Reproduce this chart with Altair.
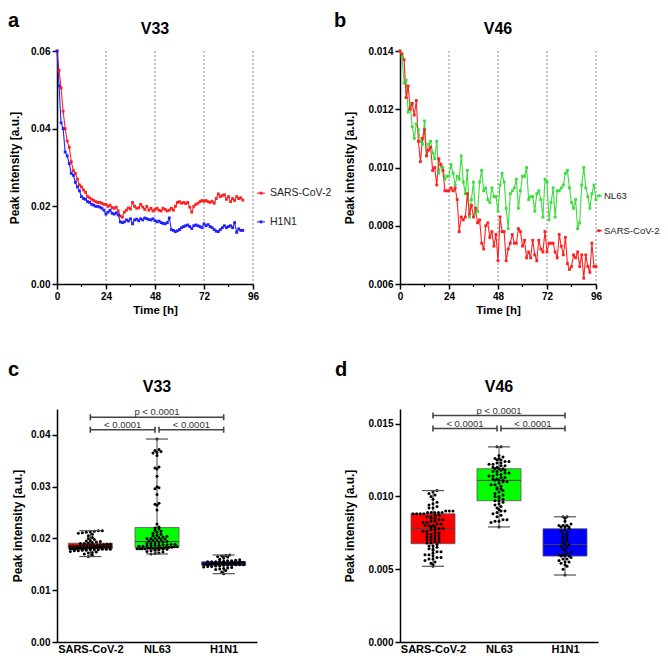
import altair as alt
import pandas as pd

FONT = "Liberation Sans"

# ---------------- Panel a : V33 time series ----------------
a_time = list(range(92))
a_sars = [0.0600, 0.0550, 0.0505, 0.0445, 0.0400, 0.0368, 0.0352, 0.0315, 0.0292, 0.0285,
          0.0270, 0.0255, 0.0250, 0.0242, 0.0236, 0.0225, 0.0222, 0.0218, 0.0215, 0.0212,
          0.0210, 0.0210, 0.0208, 0.0205, 0.0205, 0.0200, 0.0203, 0.0197, 0.0195, 0.0198,
          0.0188, 0.0175, 0.0172, 0.0185, 0.0190, 0.0196, 0.0193, 0.0210, 0.0200, 0.0195,
          0.0196, 0.0205, 0.0198, 0.0192, 0.0200, 0.0190, 0.0195, 0.0188, 0.0192, 0.0195,
          0.0190, 0.0188, 0.0195, 0.0192, 0.0188, 0.0190, 0.0195, 0.0190, 0.0200, 0.0210,
          0.0212, 0.0208, 0.0210, 0.0207, 0.0210, 0.0198, 0.0185, 0.0200, 0.0205, 0.0208,
          0.0212, 0.0215, 0.0213, 0.0215, 0.0212, 0.0210, 0.0213, 0.0208, 0.0220, 0.0232,
          0.0225, 0.0228, 0.0230, 0.0218, 0.0225, 0.0212, 0.0220, 0.0215, 0.0225, 0.0220,
          0.0222, 0.0216]
a_h1n1 = [0.0600, 0.0510, 0.0415, 0.0400, 0.0340, 0.0330, 0.0310, 0.0285, 0.0280, 0.0262,
          0.0250, 0.0240, 0.0225, 0.0220, 0.0218, 0.0212, 0.0210, 0.0205, 0.0203, 0.0200,
          0.0200, 0.0198, 0.0195, 0.0190, 0.0180, 0.0185, 0.0190, 0.0182, 0.0180, 0.0183,
          0.0178, 0.0160, 0.0158, 0.0160, 0.0165, 0.0162, 0.0168, 0.0155, 0.0165, 0.0167,
          0.0163, 0.0168, 0.0165, 0.0170, 0.0168, 0.0166, 0.0165, 0.0168, 0.0163, 0.0160,
          0.0162, 0.0158, 0.0156, 0.0155, 0.0158, 0.0170, 0.0140, 0.0138, 0.0135, 0.0137,
          0.0140, 0.0145, 0.0148, 0.0150, 0.0152, 0.0148, 0.0143, 0.0150, 0.0152, 0.0150,
          0.0148, 0.0145, 0.0155, 0.0150, 0.0153, 0.0148, 0.0145, 0.0140, 0.0136, 0.0135,
          0.0140, 0.0145, 0.0150, 0.0145, 0.0148, 0.0150, 0.0145, 0.0158, 0.0133, 0.0142,
          0.0138, 0.0138]

# ---------------- Panel b : V46 time series ----------------
b_time = list(range(97))
b_nl63 = [0.0140, 0.0138, 0.0129, 0.0130, 0.0119, 0.0122, 0.0114, 0.0110, 0.0115, 0.0113,
          0.0109, 0.0108, 0.0116, 0.0104, 0.0108, 0.0109, 0.0105, 0.0103, 0.0109, 0.0098,
          0.0101, 0.0100, 0.0096, 0.0097, 0.0097, 0.0101, 0.0098, 0.0094, 0.0097, 0.0096,
          0.0104, 0.0095, 0.0091, 0.0099, 0.0083, 0.0089, 0.0095, 0.0084, 0.0085, 0.0095,
          0.0099, 0.0092, 0.0093, 0.0089, 0.0088, 0.0093, 0.0090, 0.0090, 0.0085, 0.0094,
          0.0098, 0.0095, 0.0086, 0.0079, 0.0091, 0.0092, 0.0093, 0.0096, 0.0086, 0.0092,
          0.0097, 0.0097, 0.0100, 0.0089, 0.0090, 0.0090, 0.0085, 0.0091, 0.0092, 0.0089,
          0.0083, 0.0096, 0.0095, 0.0082, 0.0088, 0.0093, 0.0083, 0.0092, 0.0092, 0.0093,
          0.0094, 0.0098, 0.0099, 0.0093, 0.0088, 0.0086, 0.0089, 0.0079, 0.0081, 0.0094,
          0.0100, 0.0093, 0.0090, 0.0086, 0.0091, 0.0094, 0.0089]
b_sars = [0.0140, 0.0139, 0.0137, 0.0124, 0.0128, 0.0120, 0.0122, 0.0118, 0.0123, 0.0109,
          0.0102, 0.0110, 0.0113, 0.0104, 0.0106, 0.0107, 0.0099, 0.0100, 0.0094, 0.0103,
          0.0101, 0.0099, 0.0092, 0.0092, 0.0092, 0.0093, 0.0092, 0.0093, 0.0089, 0.0078,
          0.0083, 0.0082, 0.0083, 0.0091, 0.0084, 0.0087, 0.0083, 0.0086, 0.0081, 0.0082,
          0.0074, 0.0072, 0.0080, 0.0081, 0.0076, 0.0078, 0.0073, 0.0077, 0.0068, 0.0083,
          0.0078, 0.0078, 0.0068, 0.0072, 0.0074, 0.0077, 0.0074, 0.0074, 0.0079, 0.0078,
          0.0073, 0.0075, 0.0069, 0.0071, 0.0069, 0.0075, 0.0070, 0.0068, 0.0075, 0.0072,
          0.0071, 0.0078, 0.0071, 0.0074, 0.0074, 0.0074, 0.0071, 0.0069, 0.0077, 0.0073,
          0.0070, 0.0076, 0.0067, 0.0065, 0.0066, 0.0070, 0.0069, 0.0071, 0.0066, 0.0070,
          0.0062, 0.0070, 0.0066, 0.0064, 0.0074, 0.0066, 0.0066]

# ---------------- Panels c / d : distributions ----------------
box_categories = ["SARS-CoV-2", "NL63", "H1N1"]

c_sars = [0.0215, 0.0215, 0.0214, 0.0213, 0.0212, 0.0211, 0.0210, 0.0208, 0.0205, 0.0202,
          0.0200, 0.0198, 0.0196, 0.0195, 0.0194, 0.0193, 0.0192, 0.0191,
          0.0190, 0.0190, 0.0189, 0.0189, 0.0188, 0.0188, 0.0187, 0.0187, 0.0187, 0.0186,
          0.0186, 0.0186, 0.0185, 0.0185, 0.0185, 0.0184, 0.0184, 0.0184, 0.0184,
          0.0183, 0.0183, 0.0183, 0.0183, 0.0182, 0.0182, 0.0182, 0.0182, 0.0181, 0.0181,
          0.0181, 0.0181, 0.0180, 0.0180, 0.0180, 0.0180, 0.0179, 0.0179, 0.0179,
          0.0178, 0.0178, 0.0178, 0.0177, 0.0177, 0.0176, 0.0176, 0.0175, 0.0174, 0.0173,
          0.0172, 0.0170, 0.0168, 0.0165]
c_nl63 = [0.0392, 0.0372, 0.0370, 0.0368, 0.0366, 0.0365, 0.0360, 0.0338, 0.0336, 0.0334,
          0.0320, 0.0300, 0.0298, 0.0296, 0.0285, 0.0268, 0.0266, 0.0264, 0.0255, 0.0228,
          0.0222, 0.0220, 0.0218, 0.0216, 0.0214, 0.0212, 0.0210, 0.0208, 0.0206, 0.0205,
          0.0204, 0.0203, 0.0202, 0.0201, 0.0200, 0.0200, 0.0199, 0.0198, 0.0197, 0.0196,
          0.0195, 0.0194, 0.0193, 0.0192, 0.0191, 0.0190, 0.0190, 0.0189, 0.0189, 0.0188,
          0.0188, 0.0187, 0.0187, 0.0186, 0.0186, 0.0185, 0.0185, 0.0184, 0.0184, 0.0183,
          0.0183, 0.0183, 0.0182, 0.0182, 0.0182, 0.0181, 0.0181, 0.0181, 0.0181, 0.0180,
          0.0180, 0.0180, 0.0180, 0.0179, 0.0179, 0.0178, 0.0177, 0.0176, 0.0175, 0.0174,
          0.0172, 0.0171, 0.0170]
c_h1n1 = [0.0168, 0.0167, 0.0166, 0.0165, 0.0164, 0.0162, 0.0160, 0.0159, 0.0158, 0.0157,
          0.0157, 0.0156, 0.0156, 0.0155, 0.0155, 0.0155,
          0.0154, 0.0154, 0.0154, 0.0153, 0.0153, 0.0153, 0.0152, 0.0152, 0.0152, 0.0152,
          0.0151, 0.0151, 0.0151, 0.0151, 0.0150, 0.0150, 0.0150, 0.0150, 0.0149, 0.0149,
          0.0149, 0.0148, 0.0148, 0.0148,
          0.0147, 0.0147, 0.0146, 0.0146, 0.0145, 0.0144, 0.0143, 0.0142, 0.0141, 0.0140,
          0.0138, 0.0135, 0.0132]

d_sars = [0.0104, 0.0103, 0.0102, 0.0101, 0.0100, 0.0098, 0.0096, 0.0095, 0.0094, 0.0093,
          0.0092, 0.0092,
          0.0090, 0.0090, 0.0090, 0.0089, 0.0089, 0.0089, 0.0089, 0.0089, 0.0088, 0.0088,
          0.0088, 0.0088,
          0.0087, 0.0087, 0.0086, 0.0086, 0.0085, 0.0085, 0.0084, 0.0084, 0.0083, 0.0083,
          0.0082, 0.0082, 0.0081, 0.0081, 0.0080, 0.0080, 0.0080,
          0.0079, 0.0079, 0.0078, 0.0078, 0.0077, 0.0077, 0.0076, 0.0076, 0.0075, 0.0075,
          0.0074, 0.0074, 0.0073, 0.0073, 0.0072, 0.0072, 0.0071, 0.0071, 0.0070, 0.0070,
          0.0069, 0.0069, 0.0068,
          0.0068, 0.0067, 0.0066, 0.0066, 0.0065, 0.0064, 0.0064, 0.0063, 0.0062, 0.0062,
          0.0061, 0.0060, 0.0060, 0.0059, 0.0058, 0.0058, 0.0057, 0.0057, 0.0056, 0.0055,
          0.0054, 0.0053, 0.0052]
d_nl63 = [0.0134, 0.0134, 0.0128, 0.0127, 0.0126, 0.0126, 0.0125, 0.0125, 0.0124, 0.0124,
          0.0123, 0.0123, 0.0122, 0.0122, 0.0121, 0.0121, 0.0120, 0.0120, 0.0119, 0.0119,
          0.0119,
          0.0118, 0.0118, 0.0117, 0.0117, 0.0116, 0.0116, 0.0115, 0.0115, 0.0114, 0.0114,
          0.0113, 0.0113, 0.0112, 0.0112, 0.0111, 0.0111, 0.0111,
          0.0110, 0.0110, 0.0109, 0.0108, 0.0108, 0.0107, 0.0106, 0.0105, 0.0105, 0.0104,
          0.0103, 0.0102, 0.0101, 0.0100, 0.0100, 0.0099, 0.0098, 0.0097, 0.0097,
          0.0096, 0.0095, 0.0094, 0.0093, 0.0092, 0.0091, 0.0090, 0.0090, 0.0089, 0.0088,
          0.0087, 0.0086, 0.0084, 0.0084, 0.0083, 0.0083, 0.0082, 0.0079]
d_h1n1 = [0.0086, 0.0086, 0.0085, 0.0083, 0.0081, 0.0080, 0.0080, 0.0080, 0.0079, 0.0079,
          0.0079, 0.0078,
          0.0077, 0.0076, 0.0075, 0.0074, 0.0073, 0.0072, 0.0071, 0.0070, 0.0069, 0.0068,
          0.0067, 0.0067,
          0.0066, 0.0065, 0.0064, 0.0063, 0.0062, 0.0061, 0.0060, 0.0060, 0.0059, 0.0059,
          0.0059,
          0.0058, 0.0057, 0.0057, 0.0056, 0.0055, 0.0055, 0.0054, 0.0053, 0.0052, 0.0050,
          0.0046]

# significance brackets: (from index, to index, level, label)
c_brackets = [(0, 2, 0.0434, "p < 0.0001"), (0, 0.97, 0.0410, "< 0.0001"), (1.03, 2, 0.0410, "< 0.0001")]
d_brackets = [(0, 2, 0.01555, "p < 0.0001"), (0, 0.97, 0.01466, "< 0.0001"), (1.03, 2, 0.01466, "< 0.0001")]

# axes
major_hours = [0, 24, 48, 72, 96]
minor_hours = [12, 36, 60, 84]
grid_hours = [24, 48, 72, 96]
a_yticks = [0.0, 0.02, 0.04, 0.06]
b_yticks = [0.006, 0.008, 0.010, 0.012, 0.014]
c_yticks = [0.0, 0.01, 0.02, 0.03, 0.04]
d_yticks = [0.0, 0.005, 0.010, 0.015]

series_colors = {"SARS-CoV-2": "#ff2020", "H1N1": "#2020ff", "NL63": "#3ddc3d"}
box_fill = ["#ff0000", "#00ff00", "#0000ff"]

YTITLE = "Peak intensity [a.u.]"


def label_layers(title, letter, W, letter_x, letter_y, title_y):
    t = alt.Chart(pd.DataFrame({"s": [title]})).mark_text(
        font=FONT, fontSize=16, fontWeight="bold", color="black", baseline="alphabetic"
    ).encode(x=alt.value(W / 2), y=alt.value(title_y), text="s:N")
    l = alt.Chart(pd.DataFrame({"s": [letter]})).mark_text(
        font=FONT, fontSize=20, fontWeight="bold", color="black", align="left", baseline="alphabetic"
    ).encode(x=alt.value(letter_x), y=alt.value(letter_y), text="s:N")
    return [t, l]


def ts_panel(series, times, ydom, yticks, yfmt, title, letter, legend_vals, W, H,
             letter_x, ytitle_pad, leg_x0, leg_x1, leg_tx, leg_fs):
    rows = []
    for name, vals in series:
        for ti, v in zip(times, vals):
            rows.append({"series": name, "t": ti, "v": v})
    df = pd.DataFrame(rows)
    names = [n for n, _ in series]
    cscale = alt.Scale(domain=names, range=[series_colors[n] for n in names])
    xenc = alt.X("t:Q", scale=alt.Scale(domain=[0, 96], nice=False, zero=False),
                 axis=alt.Axis(values=major_hours, format="d", title="Time [h]",
                               titleFontSize=11.5, titlePadding=3, labelPadding=2))
    yenc = alt.Y("v:Q", scale=alt.Scale(domain=ydom, nice=False, zero=False),
                 axis=alt.Axis(values=yticks, format=yfmt, title=YTITLE,
                               titlePadding=ytitle_pad, labelPadding=2))
    color = alt.Color("series:N", scale=cscale, legend=None)

    grid = alt.Chart(pd.DataFrame({"t": grid_hours})).mark_rule(
        color="#8a8a8a", strokeDash=[2, 2], strokeWidth=1).encode(x=xenc)
    minor = alt.Chart(pd.DataFrame({"t": minor_hours})).mark_rule(
        color="black", strokeWidth=1.2).encode(x=xenc, y=alt.value(H), y2=alt.value(H + 3))
    base = alt.Chart(df)
    lines = base.mark_line(strokeWidth=1.1).encode(x=xenc, y=yenc, color=color)
    pts = base.mark_square(size=8, opacity=1).encode(x=xenc, y=yenc, color=color)

    leg_df = pd.DataFrame({"series": names, "v": legend_vals})
    leg_line = alt.Chart(leg_df).mark_rule(strokeWidth=1.1).encode(
        x=alt.value(leg_x0), x2=alt.value(leg_x1), y=yenc, color=color)
    leg_pt = alt.Chart(leg_df).mark_square(size=8, opacity=1).encode(
        x=alt.value((leg_x0 + leg_x1) / 2), y=yenc, color=color)
    leg_txt = alt.Chart(leg_df).mark_text(
        font=FONT, fontSize=leg_fs, align="left", baseline="middle", color="#222").encode(
        x=alt.value(leg_tx), y=yenc, text="series:N")

    return alt.layer(grid, minor, lines, pts, leg_line, leg_pt, leg_txt,
                     *label_layers(title, letter, W, letter_x, -24, -17)).properties(width=W, height=H)


def box_panel(groups, ydom, yticks, yfmt, title, letter, W, H, binw, brackets,
              letter_x, ytitle_pad, cap_px):
    rows = []
    for i, (name, vals) in enumerate(groups):
        for v in vals:
            rows.append({"cat": name, "idx": i, "v": v})
    df = pd.DataFrame(rows)
    ppu = W / 3.0
    half = 22.0 / ppu
    caph = 11.0 / ppu
    lab_expr = "[" + ",".join("'" + c + "'" for c in box_categories) + "][datum.value]"
    xs = alt.Scale(domain=[-0.5, 2.5], nice=False, zero=False)
    ys = alt.Scale(domain=ydom, nice=False, zero=False)
    xenc = alt.X("idx:Q", scale=xs, axis=alt.Axis(values=[0, 1, 2], labelExpr=lab_expr, ticks=False,
                                                  title=None, labelFontSize=11, labelPadding=1))
    yaxis = alt.Axis(values=yticks, format=yfmt, title=YTITLE, titlePadding=ytitle_pad, labelPadding=2)
    color = alt.Color("cat:N", scale=alt.Scale(domain=box_categories, range=box_fill), legend=None)

    stats = alt.Chart(df).transform_aggregate(
        lo="min(v)", q1="q1(v)", med="median(v)", q3="q3(v)", hi="max(v)", groupby=["cat", "idx"]
    ).transform_calculate(
        xl=f"datum.idx - {half}", xr=f"datum.idx + {half}",
        cl=f"datum.idx - {caph}", cr=f"datum.idx + {caph}")
    whisk = stats.mark_rule(color="#444", strokeWidth=1).encode(
        x=xenc, y=alt.Y("lo:Q", scale=ys, axis=yaxis), y2="hi:Q")
    box = stats.mark_rect(stroke="#555", strokeWidth=0.8).encode(
        x=alt.X("xl:Q", scale=xs), x2="xr:Q", y=alt.Y("q1:Q", scale=ys), y2="q3:Q", color=color)
    med = stats.mark_rule(color="#444", strokeWidth=1).encode(
        x=alt.X("xl:Q", scale=xs), x2="xr:Q", y=alt.Y("med:Q", scale=ys))
    cap_lo = stats.mark_rule(color="#555", strokeWidth=1.2).encode(
        x=alt.X("cl:Q", scale=xs), x2="cr:Q", y=alt.Y("lo:Q", scale=ys))
    cap_hi = stats.mark_rule(color="#555", strokeWidth=1.2).encode(
        x=alt.X("cl:Q", scale=xs), x2="cr:Q", y=alt.Y("hi:Q", scale=ys))

    dots = alt.Chart(df).transform_calculate(
        vb=f"floor(datum.v / {binw})"
    ).transform_joinaggregate(
        n="count()", groupby=["cat", "vb"]
    ).transform_window(
        rk="row_number()", groupby=["cat", "vb"], sort=[alt.SortField("v")]
    ).transform_calculate(
        off="(datum.rk - (datum.n + 1) / 2) * min(4, 40 / max(datum.n - 1, 1))"
    ).transform_calculate(
        xp=f"datum.idx + datum.off / {ppu}"
    ).mark_circle(size=9, color="black", opacity=1).encode(
        x=alt.X("xp:Q", scale=xs), y=alt.Y("v:Q", scale=ys))

    br_df = pd.DataFrame([{"x1": a, "x2": b, "lev": lv, "label": lb, "xm": (a + b) / 2}
                          for a, b, lv, lb in brackets])
    cap_rows = []
    for a, b, lv, lb in brackets:
        cap_rows.append({"xc": a, "lev": lv})
        cap_rows.append({"xc": b, "lev": lv})
    cap_df = pd.DataFrame(cap_rows)
    capd = cap_px * (ydom[1] - ydom[0]) / H
    br_line = alt.Chart(br_df).mark_rule(color="#444", strokeWidth=1.6).encode(
        x=alt.X("x1:Q", scale=xs), x2="x2:Q", y=alt.Y("lev:Q", scale=ys))
    br_cap = alt.Chart(cap_df).transform_calculate(
        ylo=f"datum.lev - {capd}", yhi=f"datum.lev + {capd}"
    ).mark_rule(color="#444", strokeWidth=1.6).encode(
        x=alt.X("xc:Q", scale=xs), y=alt.Y("ylo:Q", scale=ys), y2="yhi:Q")
    br_txt = alt.Chart(br_df).mark_text(
        font=FONT, fontSize=9.5, color="#333", baseline="alphabetic", dy=-2).encode(
        x=alt.X("xm:Q", scale=xs), y=alt.Y("lev:Q", scale=ys), text="label:N")

    return alt.layer(whisk, box, med, dots, cap_lo, cap_hi, br_line, br_cap, br_txt,
                     *label_layers(title, letter, W, letter_x, -33, -17)).properties(width=W, height=H)


panel_a = ts_panel([("SARS-CoV-2", a_sars), ("H1N1", a_h1n1)], a_time, [0, 0.06], a_yticks, ".2f",
                   "V33", "a", [0.0234, 0.0160], 196, 233, -49, 9, 200, 208, 213, 10.5)
panel_b = ts_panel([("NL63", b_nl63), ("SARS-CoV-2", b_sars)], b_time, [0.006, 0.014], b_yticks, ".3f",
                   "V46", "b", [0.00903, 0.00783], 196, 233, -66, 11, 196, 202, 204, 9.5)
panel_c = box_panel([("SARS-CoV-2", c_sars), ("NL63", c_nl63), ("H1N1", c_h1n1)], [0, 0.045],
                    c_yticks, ".2f", "V33", "c", 200, 233, 0.0005, c_brackets, -49, 6, 3)
panel_d = box_panel([("SARS-CoV-2", d_sars), ("NL63", d_nl63), ("H1N1", d_h1n1)], [0, 0.016],
                    d_yticks, ".3f", "V46", "d", 198, 233, 0.0002, d_brackets, -65, 11, 3)

chart = alt.concat(panel_a, panel_b, panel_c, panel_d, columns=2,
                   spacing={"row": 125, "column": 143}, bounds="flush").resolve_scale(
    color="independent"
).properties(
    padding={"left": 0, "top": 3, "right": 0, "bottom": 0}
).configure_view(stroke=None).configure_axis(
    labelFont=FONT, titleFont=FONT, labelFontWeight="bold", titleFontWeight="bold",
    labelColor="black", titleColor="black", domainColor="black", tickColor="black",
    domainWidth=1.5, tickWidth=1.5, tickSize=5, labelFontSize=10, titleFontSize=12, grid=False,
    labelFlush=False
)

chart.save("out.html", embed_options={"renderer": "svg", "actions": False})
